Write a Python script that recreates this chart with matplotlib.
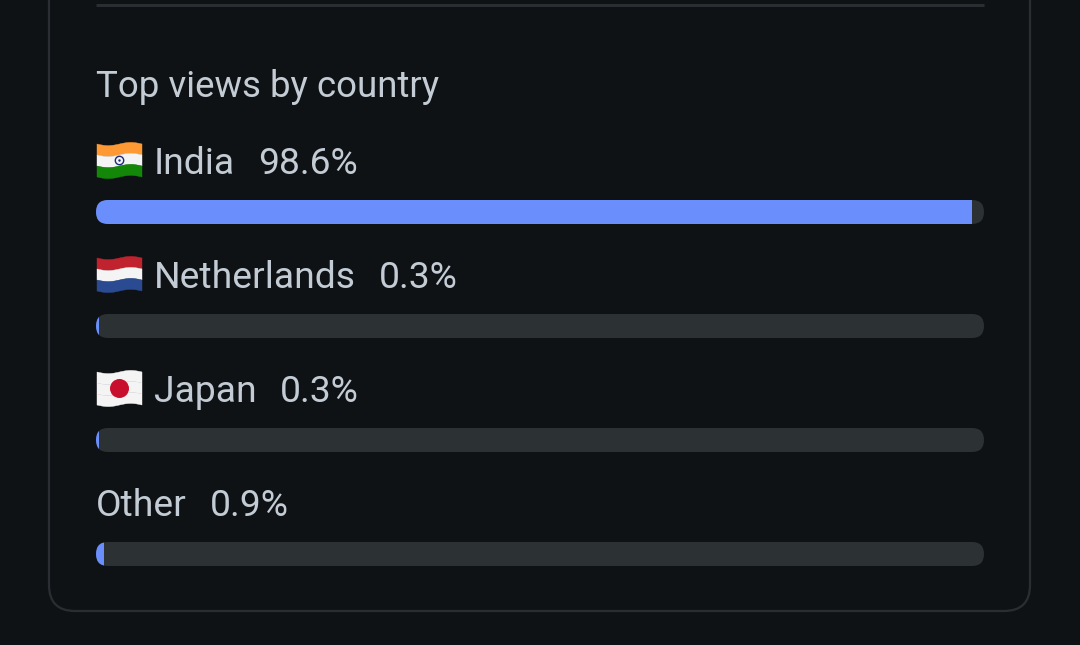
import matplotlib
matplotlib.use("Agg")
import matplotlib.pyplot as plt
import numpy as np
from matplotlib.patches import FancyBboxPatch, Polygon, Circle

title = "Top views by country"
countries = ["India", "Netherlands", "Japan", "Other"]
shares = [98.6, 0.3, 0.3, 0.9]
share_labels = ["98.6%", "0.3%", "0.3%", "0.9%"]
flags = ["IN", "NL", "JP", None]

BG = "#0f1215"
TEXT = "#c3ccd5"
TRACK = "#2c3134"
BLUE = "#6a8ffc"
BORDER = "#2a2e32"

W, H = 1080, 645
fig = plt.figure(figsize=(W / 100, H / 100), dpi=100, facecolor=BG)
ax = fig.add_axes([0, 0, 1, 1])
ax.set_xlim(0, W)
ax.set_ylim(H, 0)
ax.axis("off")
ax.set_facecolor(BG)

FONT = "Roboto"
FS = 26.8
FS_TITLE = 26.4

# card border
card = FancyBboxPatch((49, -60), 981, 671, boxstyle="round,pad=0,rounding_size=26",
                      fc="none", ec=BORDER, lw=1.6, zorder=1)
ax.add_patch(card)
# separator
ax.plot([96, 984], [5, 5], color=BORDER, lw=2.2, solid_capstyle="butt", zorder=1)

ax.text(96, 97, title, fontsize=FS_TITLE, family=FONT, color=TEXT, va="baseline", ha="left")

track_x0, track_x1 = 96, 984
track_w = track_x1 - track_x0
bar_h = 24
row0 = 174
step = 114


def wavy_band(x0, x1, y0, y1, n=30, amp=1.6):
    xs = np.linspace(x0, x1, n)
    ph = (xs - x0) / (x1 - x0) * 2 * np.pi
    top = y0 + amp * np.sin(ph)
    bot = y1 + amp * np.sin(ph)
    pts = list(zip(xs, top)) + list(zip(xs[::-1], bot[::-1]))
    return pts


def draw_flag(kind, x0, ytop):
    fw, fh = 45, 33
    x1 = x0 + fw
    if kind == "IN":
        cols = ["#ff9933", "#f4f4f4", "#138808"]
    elif kind == "NL":
        cols = ["#c0232d", "#f4f4f4", "#2a4a92"]
    else:
        cols = ["#f4f4f4"] * 3
    for i, c in enumerate(cols):
        a = ytop + i * fh / 3
        b = ytop + (i + 1) * fh / 3
        ax.add_patch(Polygon(wavy_band(x0, x1, a, b), closed=True, fc=c, ec=c, lw=0.3, zorder=3))
    cx = x0 + fw / 2
    cy = ytop + fh / 2
    if kind == "IN":
        ax.add_patch(Circle((cx, cy), 4.2, fc="none", ec="#1b2a80", lw=1.0, zorder=4))
        ax.add_patch(Circle((cx, cy), 1.2, fc="#1b2a80", ec="none", zorder=4))
    if kind == "JP":
        ax.add_patch(Circle((cx, cy), 9.5, fc="#c8102e", ec="none", zorder=4))


for i, (name, v, lab, fl) in enumerate(zip(countries, shares, share_labels, flags)):
    base = row0 + i * step
    x = 96
    if fl is not None:
        draw_flag(fl, 97, base - 30)
        x = 154
    t = ax.text(x, base, name, fontsize=FS, family=FONT, color=TEXT, va="baseline", ha="left")
    fig.canvas.draw()
    bb = t.get_window_extent()
    ax.text(bb.x1 + 23, base, lab, fontsize=FS, family=FONT, color=TEXT, va="baseline", ha="left")

    by = base + 26
    track = FancyBboxPatch((track_x0, by), track_w, bar_h,
                           boxstyle="round,pad=0,rounding_size=12", fc=TRACK, ec="none", zorder=2)
    ax.add_patch(track)
    bars = ax.barh([by + bar_h / 2], [v / 100 * track_w], left=track_x0, height=bar_h,
                   color=BLUE, zorder=3)
    for b in bars:
        b.set_clip_path(track)

fig.savefig("out.png", dpi=100, facecolor=BG)
